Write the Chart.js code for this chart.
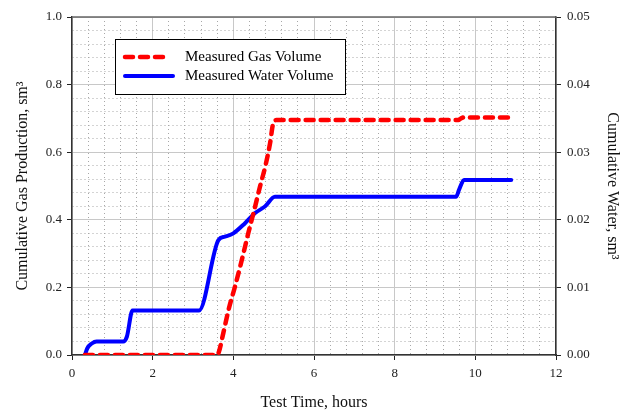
<!DOCTYPE html>
<html>
<head>
<meta charset="utf-8">
<script src="https://cdn.jsdelivr.net/npm/chart.js@4.4.1/dist/chart.umd.min.js"></script>
<style>
    body { margin: 0; background: #fff; }
</style>
</head>
<body>
<canvas id="chart" width="637" height="411"></canvas>
<script>
// Gas production (left axis, sm3) vs test time (hours)
const gasTime = [0.32, 3.58, 3.63, 3.75, 3.88, 4.04, 4.21, 4.37, 4.54, 4.66, 4.79, 4.91, 4.99, 5.07, 9.58, 9.64, 9.72, 10.86];
const gasVolume = [0, 0, 0.005, 0.064, 0.133, 0.202, 0.281, 0.36, 0.439, 0.498, 0.557, 0.626, 0.686, 0.695, 0.695, 0.700, 0.703, 0.703];

// Water production (right axis, sm3) vs test time (hours)
const waterTime = [0.32, 0.38, 0.49, 0.61, 1.27, 1.36, 1.50, 3.15, 3.63, 3.79, 4.00, 4.29, 4.54, 4.79, 5.03, 9.52, 9.60, 9.72, 10.89];
const waterVolume = [0, 0.0010, 0.0017, 0.0020, 0.0020, 0.0027, 0.0066, 0.0066, 0.0170, 0.0175, 0.0180, 0.0195, 0.0210, 0.0220, 0.0234, 0.0234, 0.0245, 0.0259, 0.0259];

const seriesLabels = ['Measured Gas Volume', 'Measured Water Volume'];

// Labelled (major) ticks
const timeTicks = [0, 2, 4, 6, 8, 10, 12];
const gasTicks = [0.0, 0.2, 0.4, 0.6, 0.8, 1.0];
const waterTicks = [0.00, 0.01, 0.02, 0.03, 0.04, 0.05];

const xTitle = 'Test Time, hours';
const gasTitle = 'Cumulative Gas Production, sm\u00b3';
const waterTitle = 'Cumulative Water, sm\u00b3';

const FONT = "'Liberation Serif', 'Times New Roman', serif";

function toPoints(xs, ys) {
    return xs.map((x, i) => ({ x: x, y: ys[i] }));
}

function isMajor(value, majors) {
    return majors.some(m => Math.abs(m - value) < 1e-9);
}

// Grid helpers: solid grey on labelled ticks, dotted on minor ones
function gridColor(majors) {
    return ctx => (ctx.tick && isMajor(ctx.tick.value, majors)) ? '#c8c8c8' : '#a8a8a8';
}
function gridDash(majors) {
    return ctx => (!ctx.tick || isMajor(ctx.tick.value, majors)) ? [] : [1, 3];
}
function tickMarkColor(majors) {
    return ctx => (ctx.tick && isMajor(ctx.tick.value, majors)) ? '#222' : 'rgba(0,0,0,0)';
}

// Legend box drawn inside the plot
const legendBox = {
    id: 'legendBox',
    afterDatasetsDraw(chart) {
        const ctx = chart.ctx;
        ctx.save();
        ctx.fillStyle = '#fff';
        ctx.fillRect(115, 39, 230, 55);
        ctx.strokeStyle = '#000';
        ctx.lineWidth = 1;
        ctx.strokeRect(115.5, 39.5, 230, 55);
        chart.data.datasets.forEach((ds, i) => {
            const y = 57 + i * 19;
            ctx.beginPath();
            ctx.setLineDash(ds.borderDash || []);
            ctx.lineCap = ds.borderCapStyle || 'butt';
            ctx.strokeStyle = ds.borderColor;
            ctx.lineWidth = ds.borderWidth;
            ctx.moveTo(125, y);
            ctx.lineTo(i === 0 ? 167 : 173, y);
            ctx.stroke();
            ctx.setLineDash([]);
            ctx.fillStyle = '#000';
            ctx.font = '15px ' + FONT;
            ctx.textBaseline = 'middle';
            ctx.textAlign = 'left';
            ctx.fillText(ds.label, 185, y);
        });
        ctx.restore();
    }
};

// Top frame line of the plot area
const topFrame = {
    id: 'topFrame',
    afterDraw(chart) {
        const { ctx, chartArea } = chart;
        ctx.save();
        ctx.strokeStyle = '#666';
        ctx.lineWidth = 1.5;
        ctx.beginPath();
        ctx.moveTo(chartArea.left, chartArea.top);
        ctx.lineTo(chartArea.right, chartArea.top);
        ctx.stroke();
        ctx.restore();
    }
};

new Chart(document.getElementById('chart'), {
    type: 'line',
    data: {
        datasets: [
            {
                label: seriesLabels[0],
                data: toPoints(gasTime, gasVolume),
                yAxisID: 'y',
                borderColor: '#ff0000',
                borderWidth: 4.5,
                borderDash: [8, 7],
                borderCapStyle: 'round',
                pointRadius: 0,
                cubicInterpolationMode: 'monotone',
                order: 1
            },
            {
                label: seriesLabels[1],
                data: toPoints(waterTime, waterVolume),
                yAxisID: 'y1',
                borderColor: '#0000ff',
                borderWidth: 4,
                borderCapStyle: 'round',
                pointRadius: 0,
                cubicInterpolationMode: 'monotone',
                order: 2
            }
        ]
    },
    options: {
        responsive: false,
        animation: false,
        layout: { padding: { top: 17, left: 0, right: 0, bottom: 0 } },
        plugins: {
            legend: { display: false },
            tooltip: { enabled: false }
        },
        scales: {
            x: {
                type: 'linear',
                min: 0,
                max: 12,
                afterFit: s => { s.height = 56; },
                ticks: {
                    stepSize: 0.4,
                    autoSkip: false,
                    maxRotation: 0,
                    padding: 6,
                    color: '#222',
                    font: { family: FONT, size: 13 },
                    callback: v => isMajor(v, timeTicks) ? String(Math.round(v)) : ''
                },
                grid: {
                    color: gridColor(timeTicks),
                    lineWidth: 1,
                    tickLength: 5,
                    tickColor: tickMarkColor(timeTicks)
                },
                border: { color: '#333', width: 1.5, dash: gridDash(timeTicks) },
                title: {
                    display: true,
                    text: xTitle,
                    color: '#111',
                    font: { family: FONT, size: 16, lineHeight: 1 },
                    padding: { top: 0, bottom: 0 }
                }
            },
            y: {
                type: 'linear',
                position: 'left',
                min: 0,
                max: 1,
                afterFit: s => { s.width = 72; },
                ticks: {
                    stepSize: 0.04,
                    autoSkip: false,
                    padding: 5,
                    color: '#222',
                    font: { family: FONT, size: 13 },
                    callback: v => isMajor(v, gasTicks) ? v.toFixed(1) : ''
                },
                grid: {
                    color: gridColor(gasTicks),
                    lineWidth: 1,
                    tickLength: 5,
                    tickColor: tickMarkColor(gasTicks)
                },
                border: { color: '#333', width: 1.5, dash: gridDash(gasTicks) },
                title: {
                    display: true,
                    text: gasTitle,
                    color: '#111',
                    font: { family: FONT, size: 16, lineHeight: 1 },
                    padding: { top: 15, bottom: 0 }
                }
            },
            y1: {
                type: 'linear',
                position: 'right',
                min: 0,
                max: 0.05,
                afterFit: s => { s.width = 81; },
                ticks: {
                    stepSize: 0.002,
                    autoSkip: false,
                    padding: 6,
                    color: '#222',
                    font: { family: FONT, size: 13 },
                    callback: v => isMajor(v, waterTicks) ? v.toFixed(2) : ''
                },
                grid: {
                    drawOnChartArea: false,
                    tickLength: 5,
                    tickColor: tickMarkColor(waterTicks)
                },
                border: { color: '#333', width: 1.5 },
                title: {
                    display: true,
                    text: waterTitle,
                    color: '#111',
                    font: { family: FONT, size: 16, lineHeight: 1 },
                    padding: { top: 17, bottom: 0 }
                }
            }
        }
    },
    plugins: [legendBox, topFrame]
});
</script>
</body>
</html>
